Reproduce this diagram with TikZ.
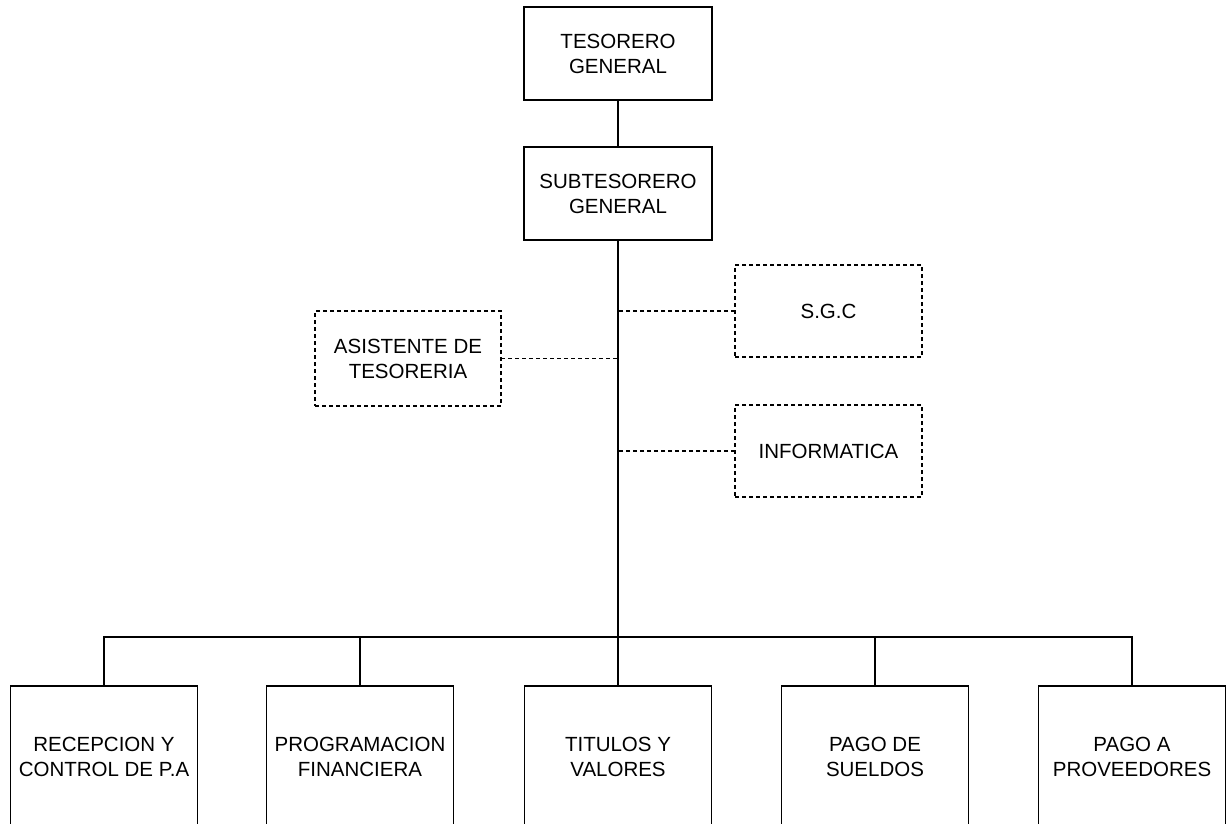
\documentclass[tikz,border=0pt]{standalone}
\usepackage{fontspec}
\setmainfont{Liberation Sans}
\usepackage{tikz}
\usetikzlibrary{positioning}

\tikzset{
  unit/.style={draw, line width=1.8pt, inner sep=0pt, outer sep=0pt, align=center,
    minimum width=188pt, minimum height=93pt, font=\fontsize{20.5}{25}\selectfont},
  staff/.style={unit, line width=1.4pt, dash pattern=on 4pt off 3pt, minimum height=93pt},
  link/.style={line width=1.8pt},
  dlink/.style={line width=1.4pt, dash pattern=on 4pt off 3pt}
}

\begin{document}
\begin{tikzpicture}[x=1pt,y=-1pt]
    \useasboundingbox (0,0) rectangle (1229,823);
    \clip (0,0) rectangle (1229,823);

    % head
    \node[unit] (teso) at (618,53.5) {TESORERO\\GENERAL};
    \node[unit] (subteso) at (618,193.5) {SUBTESORERO\\GENERAL};
    \draw[link] (teso) -- (subteso);

    % staff units
    \node[staff, minimum width=186pt, minimum height=95pt] (asis) at (408,358.5) {ASISTENTE DE\\TESORERIA};
    \node[staff, minimum width=187pt, minimum height=92pt] (sgc) at (828.5,311) {S.G.C};
    \node[staff, minimum width=187pt, minimum height=92pt] (info) at (828.5,451) {INFORMATICA};

    % main line
    \coordinate (bus) at (618,637);
    \draw[link] (subteso) -- (bus);
    \draw[dlink] (asis.east) -- (asis.east -| bus);
    \draw[dlink] (sgc.west) -- (sgc.west -| bus);
    \draw[dlink] (info.west) -- (info.west -| bus);

    % departments
    \node[unit, minimum width=187pt, minimum height=142pt] (d1) at (104,757) {RECEPCION Y\\CONTROL DE P.A};
    \node[unit, minimum width=187pt, minimum height=142pt] (d2) at (360,757) {PROGRAMACION\\FINANCIERA};
    \node[unit, minimum width=187pt, minimum height=142pt] (d3) at (618,757) {TITULOS Y\\VALORES};
    \node[unit, minimum width=187pt, minimum height=142pt] (d4) at (875,757) {PAGO DE\\SUELDOS};
    \node[unit, minimum width=187pt, minimum height=142pt] (d5) at (1132,757) {PAGO A\\PROVEEDORES};

    % bus to departments
    \draw[link] (d1.north) |- (bus) -| (d5.north);
    \foreach \d in {d2,d3,d4} \draw[link] (\d.north) -- (\d.north |- bus);
\end{tikzpicture}
\end{document}
